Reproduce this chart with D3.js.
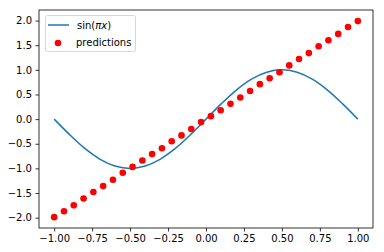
<!DOCTYPE html>
<html>
<head>
<meta charset="utf-8">
<script src="https://cdn.jsdelivr.net/npm/d3@7"></script>
<style>
  body { margin: 0; background: #fff; }
  text { font-family: "DejaVu Sans", sans-serif; }
</style>
</head>
<body>
<div id="chart"></div>
<script>
// sin(pi x) curve at steps of 0.1
const sinX = [-1.0, -0.9, -0.8, -0.7, -0.6, -0.5, -0.4, -0.3, -0.2, -0.1, 0.0,
  0.1, 0.2, 0.3, 0.4, 0.5, 0.6, 0.7, 0.8, 0.9, 1.0];
const sinY = [0.0, -0.31, -0.59, -0.81, -0.95, -1.0, -0.95, -0.81, -0.59, -0.31, 0.0,
  0.31, 0.59, 0.81, 0.95, 1.0, 0.95, 0.81, 0.59, 0.31, 0.0];

// predictions, 32 points from -1 to 1
const predX = d3.range(32).map(i => -1 + i * 2 / 31);
const predY = [-1.99, -1.87, -1.75, -1.61, -1.48, -1.36, -1.23, -1.09, -0.97, -0.84,
  -0.71, -0.59, -0.45, -0.33, -0.20, -0.06, 0.06, 0.18, 0.31, 0.44, 0.57, 0.71,
  0.83, 0.95, 1.09, 1.22, 1.34, 1.48, 1.60, 1.73, 1.87, 1.99];

const xTicks = [-1.0, -0.75, -0.5, -0.25, 0.0, 0.25, 0.5, 0.75, 1.0];
const yTicks = [-2.0, -1.5, -1.0, -0.5, 0.0, 0.5, 1.0, 1.5, 2.0];

const W = 384, H = 252;
const m = { left: 39, right: 373, top: 10, bottom: 228 };

const svg = d3.select('#chart').append('svg')
  .attr('width', W)
  .attr('height', H);

const x = d3.scaleLinear().domain([-1.1, 1.1]).range([m.left, m.right]);
const y = d3.scaleLinear().domain([-2.21, 2.215]).range([m.bottom, m.top]);

// axes
const xAxis = svg.append('g')
  .attr('transform', `translate(0,${m.bottom})`)
  .call(d3.axisBottom(x).tickValues(xTicks).tickFormat(d3.format('.2f'))
    .tickSize(3.5).tickPadding(3.5).tickSizeOuter(0));
const yAxis = svg.append('g')
  .attr('transform', `translate(${m.left},0)`)
  .call(d3.axisLeft(y).tickValues(yTicks).tickFormat(d3.format('.1f'))
    .tickSize(3.5).tickPadding(3.5).tickSizeOuter(0));
[xAxis, yAxis].forEach(g => {
  g.select('.domain').remove();
  g.selectAll('line').attr('stroke', '#000').attr('stroke-width', 0.8);
  g.selectAll('text').attr('fill', '#000').style('font-size', '10px')
    .style('font-family', '"DejaVu Sans", sans-serif');
});

// sin line
const line = d3.line()
  .x((d, i) => x(sinX[i]))
  .y(d => y(d))
  .curve(d3.curveCatmullRom);
svg.append('path')
  .datum(sinY)
  .attr('fill', 'none')
  .attr('stroke', '#1f77b4')
  .attr('stroke-width', 1.5)
  .attr('d', line);

// predictions
svg.selectAll('.dot')
  .data(predY)
  .enter()
  .append('circle')
  .attr('class', 'dot')
  .attr('cx', (d, i) => x(predX[i]))
  .attr('cy', d => y(d))
  .attr('r', 3.3)
  .attr('fill', 'red');

// frame
svg.append('rect')
  .attr('x', m.left).attr('y', m.top)
  .attr('width', m.right - m.left).attr('height', m.bottom - m.top)
  .attr('fill', 'none')
  .attr('stroke', '#000')
  .attr('stroke-width', 0.8);

// legend
const legend = svg.append('g').attr('transform', 'translate(45,15)');
legend.append('rect')
  .attr('x', 0.5).attr('y', 0.5)
  .attr('width', 90).attr('height', 36)
  .attr('rx', 2)
  .attr('fill', 'rgba(255,255,255,0.8)')
  .attr('stroke', '#ccc')
  .attr('stroke-width', 0.8);
legend.append('line')
  .attr('x1', 3).attr('x2', 24)
  .attr('y1', 10).attr('y2', 10)
  .attr('stroke', '#1f77b4')
  .attr('stroke-width', 1.5);
const t1 = legend.append('text')
  .attr('x', 32).attr('y', 13.5)
  .style('font-size', '10px');
t1.append('tspan').text('sin(');
t1.append('tspan').style('font-style', 'italic').text('πx');
t1.append('tspan').text(')');
legend.append('circle')
  .attr('cx', 13).attr('cy', 28)
  .attr('r', 3.3)
  .attr('fill', 'red');
legend.append('text')
  .attr('x', 31).attr('y', 31)
  .style('font-size', '10px')
  .text('predictions');
</script>
</body>
</html>
